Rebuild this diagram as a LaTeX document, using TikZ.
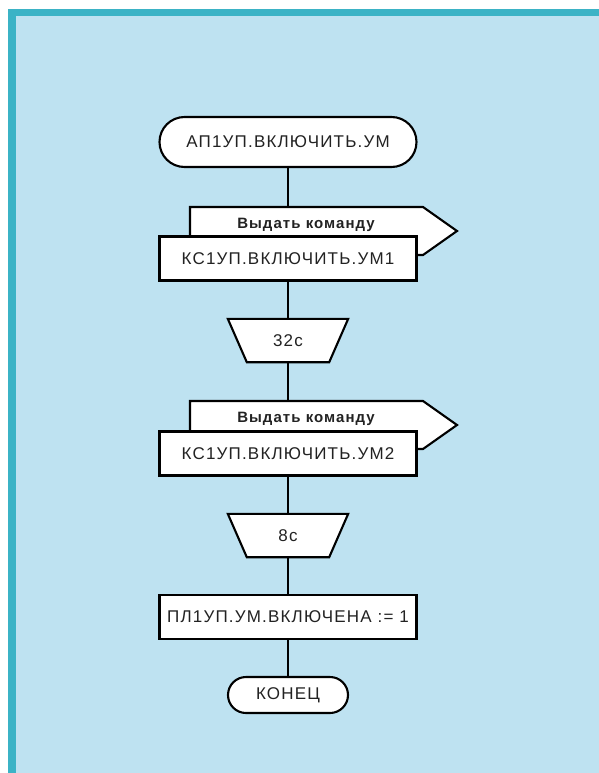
\documentclass[tikz,border=0pt]{standalone}
\usepackage{fontspec}
\setmainfont{Liberation Sans}[LetterSpace=7]
\usetikzlibrary{shapes.misc}

\definecolor{panelblue}{HTML}{BEE2F1}
\definecolor{panelteal}{HTML}{3BB3C6}
\definecolor{inkgray}{HTML}{222222}

\pgfdeclarelayer{panel}
\pgfdeclarelayer{links}
\pgfdeclarelayer{tiles}
\pgfsetlayers{panel,links,tiles,main}

\tikzset{
  block/.style={draw=black, fill=white, line width=2.1pt, text=inkgray,
    font=\fontsize{17}{20}\selectfont, inner sep=0pt},
  term/.style={block, rounded rectangle, minimum height=50pt},
  cmdbox/.style={block, rectangle, minimum width=257pt, minimum height=44pt},
  delaybox/.style={text=inkgray, font=\fontsize{17}{20}\selectfont, inner sep=0pt,
    minimum width=120pt, minimum height=43pt},
  edge/.style={draw=black, fill=white, line width=2.1pt, line join=miter},
  flaglabel/.style={text=inkgray, font=\bfseries\fontsize{15}{18}\selectfont,
    anchor=base, inner sep=0pt},
  link/.style={draw=black, line width=1.6pt}
}

\begin{document}
\begin{tikzpicture}[x=1pt,y=-1pt]
  \useasboundingbox (0,0) rectangle (599,773);
  \begin{pgfonlayer}{panel}
    \fill[white] (0,0) rectangle (599,773);
    \fill[panelteal] (8,9) rectangle (599,773);
    \fill[panelblue] (16,16) rectangle (599,773);
  \end{pgfonlayer}

  \node[term, minimum width=257pt] (start) at (288,142) {АП1УП.ВКЛЮЧИТЬ.УМ};

  % first command
  \coordinate (f1) at (190,207);
  \draw[edge] (f1) -- ++(233,0) -- ++(34,24) -- ++(-34,24) -- ++(-233,0) -- cycle;
  \node[flaglabel] (f1txt) at (306,228) {Выдать команду};
  \node[cmdbox] (cmd1) at (288,258.5) {КС1УП.ВКЛЮЧИТЬ.УМ1};

  \node[delaybox] (d1) at (288,340.5) {32с};

  % second command
  \coordinate (f2) at (190,401);
  \draw[edge] (f2) -- ++(233,0) -- ++(34,24) -- ++(-34,24) -- ++(-233,0) -- cycle;
  \node[flaglabel] (f2txt) at (306,422) {Выдать команду};
  \node[cmdbox] (cmd2) at (288,453.5) {КС1УП.ВКЛЮЧИТЬ.УМ2};

  \node[delaybox] (d2) at (288,535.5) {8с};

  \node[cmdbox] (set) at (288,617) {ПЛ1УП.УМ.ВКЛЮЧЕНА := 1};
  \node[term, minimum width=120pt, minimum height=36pt] (stop) at (288,695) {КОНЕЦ};

  % delay outlines, under the texts
  \begin{pgfonlayer}{tiles}
    \foreach \d in {d1,d2}
      \draw[edge] (\d.north west) -- (\d.north east)
        -- ([xshift=-19pt]\d.south east) -- ([xshift=19pt]\d.south west) -- cycle;
  \end{pgfonlayer}

  \begin{pgfonlayer}{links}
    \draw[link] (start) -- (cmd1);
    \draw[link] (cmd1) -- (d1);
    \draw[link] (d1) -- (cmd2);
    \draw[link] (cmd2) -- (d2);
    \draw[link] (d2) -- (set);
    \draw[link] (set) -- (stop);
  \end{pgfonlayer}
\end{tikzpicture}
\end{document}
